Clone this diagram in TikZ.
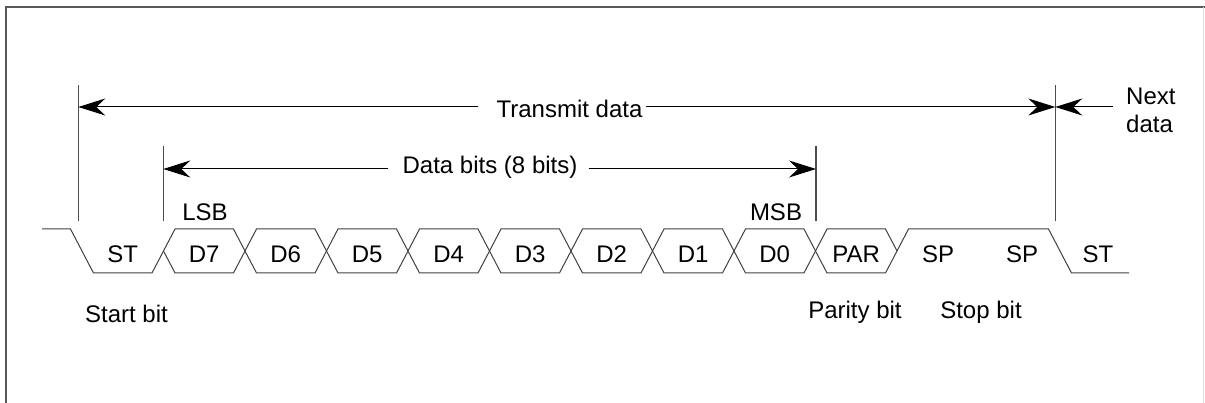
\documentclass[tikz,border=0pt]{standalone}
\usepackage{fontspec}
\setmainfont{Liberation Sans}
\usetikzlibrary{arrows.meta}
\begin{document}
\begin{tikzpicture}[x=1pt,y=-1pt,
  lbl/.style={inner sep=0pt,anchor=base,font=\fontsize{24}{28.5}\selectfont},
  lblw/.style={inner sep=0pt,anchor=base west,font=\fontsize{24}{28.5}\selectfont},
  wave/.style={draw=black!75,line width=1pt,line join=miter},
  vline/.style={draw=black!70,line width=1.2pt},
  arr/.style={draw=black,line width=1pt,-{Stealth[length=27pt,width=17pt,inset=9pt]}},
  frame/.style={draw=black!65,line width=1.6pt}]
\useasboundingbox (0,0) rectangle (1205,403);
% frame
\coordinate (fTR) at (1205,7);
\coordinate (fTL) at (6,7);
\coordinate (fBL) at (6,403);
\draw[frame] (fTR) -- (fTL) -- (fBL);
\draw[draw=black!12,line width=1pt] (1203.5,7) -- (1203.5,403);

% waveform: start bit
\draw[wave] (42,229) -- (70.5,229) -- (93.5,273) -- (152,273) -- (163.5,251);
\node[lbl] (st1) at (122.75,263) {ST};
% data bits and parity
\foreach \i/\t in {1/D7,2/D6,3/D5,4/D4,5/D3,6/D2,7/D1,8/D0,9/PAR}{
  \pgfmathsetmacro\b{82+81.5*\i}
  \draw[wave] (\b,251) -- (\b+11.5,229) -- (\b+70,229) -- (\b+81.5,251)
    -- (\b+70,273) -- (\b+11.5,273) -- cycle;
  \node[lbl] (bit\i) at (\b+40.75,263) {\t};
}
% stop bits and next start
\draw[wave] (897,251) -- (908.5,229) -- (1048.5,229) -- (1071.5,273) -- (1129,273);
\node[lbl] (sp1) at (938,263) {SP};
\node[lbl] (sp2) at (1022,263) {SP};
\node[lbl] (st2) at (1098,263) {ST};

% vertical markers
\coordinate (vA1) at (78.3,85);   \coordinate (vA2) at (78.3,221);
\coordinate (vB1) at (163.3,146); \coordinate (vB2) at (163.3,221);
\coordinate (vC1) at (816,146);   \coordinate (vC2) at (816,221);
\coordinate (vD1) at (1055.3,85); \coordinate (vD2) at (1055.3,221);
\draw[vline] (vA1) -- (vA2);
\draw[vline] (vB1) -- (vB2);
\draw[vline] (vC1) -- (vC2);
\draw[vline] (vD1) -- (vD2);

% transmit data arrow
\node[lbl] (tx) at (569.5,117.5) {Transmit data};
\coordinate (tL) at (78.3,107);
\coordinate (tR) at (1055.3,107);
\coordinate (nR) at (1113,107);
\draw[arr] ([xshift=-18pt]tx.west |- tL) -- (tL);
\draw[arr] ([xshift=3pt]tx.east |- tR) -- (tR);
\draw[arr] (nR) -- (tR);
\node[lblw] (nd1) at (1126,105) {Next};
\node[lblw] (nd2) at (1126,133) {data};

% data bits arrow
\node[lbl] (db) at (490,174) {Data bits (8 bits)};
\coordinate (dL) at (163.3,169);
\coordinate (dR) at (816,169);
\draw[arr] ([xshift=-14pt]db.west |- dL) -- (dL);
\draw[arr] ([xshift=11pt]db.east |- dR) -- (dR);

% labels
\node[lbl] (lsb) at (205,221) {LSB};
\node[lbl] (msb) at (776,221) {MSB};
\node[lbl] (startb) at (126.5,323) {Start bit};
\node[lbl] (parb) at (855,318.5) {Parity bit};
\node[lbl] (stopb) at (981,319) {Stop bit};
\end{tikzpicture}
\end{document}
